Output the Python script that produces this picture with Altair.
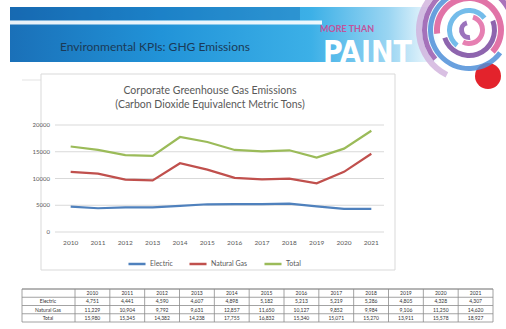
import altair as alt
import pandas as pd

# ---------------- data ----------------
years = ["2010", "2011", "2012", "2013", "2014", "2015",
         "2016", "2017", "2018", "2019", "2020", "2021"]
electric = [4751, 4441, 4590, 4607, 4898, 5182, 5213, 5219, 5286, 4805, 4328, 4307]
natural_gas = [11229, 10904, 9792, 9631, 12857, 11650, 10127, 9852, 9984, 9106, 11250, 14620]
total = [15980, 15345, 14382, 14238, 17755, 16832, 15340, 15071, 15270, 13911, 15578, 18927]
series = ["Electric", "Natural Gas", "Total"]
series_colors = ["#4F81BD", "#C0504D", "#9BBB59"]
y_ticks = [0, 5000, 10000, 15000, 20000]
chart_title = ["Corporate Greenhouse Gas Emissions", "(Carbon Dioxide Equivalenct Metric Tons)"]
slide_title = ["Environmental KPIs: GHG Emissions"]
brand_small = ["MORE THAN"]
brand_big = ["PAINT"]
table_rows = ["Year", "Electric", "Natural Gas", "Total"]

FONT = "Lato"

df = pd.DataFrame({
    "year": years * 3,
    "series": ["Electric"] * 12 + ["Natural Gas"] * 12 + ["Total"] * 12,
    "value": electric + natural_gas + total,
})

one = pd.DataFrame({"k": [0]})

# ---------------- slide decorations ----------------
banner = alt.Chart(one).mark_rect(
    fill={"gradient": "linear", "x1": 0, "x2": 1, "y1": 0, "y2": 0,
          "stops": [{"offset": 0, "color": "#1a70b8"},
                    {"offset": 0.35, "color": "#2193d8"},
                    {"offset": 0.7, "color": "#3cb0e7"},
                    {"offset": 0.88, "color": "#9ad5f2"},
                    {"offset": 1, "color": "#ffffff"}]}
).encode(x=alt.value(10), x2=alt.value(440), y=alt.value(7), y2=alt.value(62))

banner_top = alt.Chart(one).mark_rect(color="#0f5aa3", opacity=0.3).encode(
    x=alt.value(10), x2=alt.value(300), y=alt.value(7), y2=alt.value(20))

white_stripe = alt.Chart(one).mark_rect(color="#ffffff", opacity=0.9).encode(
    x=alt.value(10), x2=alt.value(322), y=alt.value(20.5), y2=alt.value(24.5))

under_line = alt.Chart(one).mark_rule(color="#e3e3e3", strokeWidth=1).encode(
    x=alt.value(22), x2=alt.value(395), y=alt.value(80))


def arc(r_out, r_in, t1, t2, color, op=0.85):
    return alt.Chart(one).mark_arc(
        radius=r_out, radius2=r_in, theta=t1, theta2=t2, color=color, opacity=op
    ).encode(x=alt.value(469), y=alt.value(30))


red_blob = alt.Chart(one).mark_arc(radius=13, theta=0, theta2=6.2832, color="#e3232c").encode(
    x=alt.value(488), y=alt.value(76))

logo = [
    red_blob,
    arc(53, 47, 3.6, 7.6, "#cfb0dc", 0.8),
    arc(47, 42, 4.0, 8.2, "#9a5aae"),
    arc(41, 36, 2.2, 5.8, "#4f8fd8"),
    arc(35, 29, 4.6, 8.6, "#dc5a98"),
    arc(28, 23, 1.2, 4.4, "#7a4aa0"),
    arc(22, 17, 3.8, 7.2, "#5cb0e6"),
    arc(16, 11, 0.3, 3.6, "#e26aa4"),
    arc(10, 5, 3.0, 6.0, "#8a5ab0"),
]

slide_title_t = alt.Chart(pd.DataFrame({"t": slide_title})).mark_text(
    font=FONT, fontSize=12, color="#1b3a57", align="left", baseline="middle"
).encode(x=alt.value(60), y=alt.value(47), text="t:N")

brand_small_t = alt.Chart(pd.DataFrame({"t": brand_small})).mark_text(
    font=FONT, fontSize=9, fontWeight="bold", color="#c2549c", align="left", baseline="middle"
).encode(x=alt.value(320), y=alt.value(29), text="t:N")

brand_big_t = alt.Chart(pd.DataFrame({"t": brand_big})).mark_text(
    font="Liberation Sans Narrow, DejaVu Sans Condensed, sans-serif", fontSize=30,
    fontWeight="bold", color="#ffffff", align="left", baseline="alphabetic"
).encode(x=alt.value(323), y=alt.value(62), text="t:N")

frame = alt.Chart(one).mark_rect(fill="#ffffff", stroke="#d9d9d9", strokeWidth=1).encode(
    x=alt.value(41), x2=alt.value(395), y=alt.value(74), y2=alt.value(270))

# ---------------- line chart ----------------
xs = alt.Scale(type="point", domain=years, range=[57, 385], padding=0.5)
ys = alt.Scale(domain=[0, 20000], range=[232, 125], nice=False, zero=False)

grid = alt.Chart(pd.DataFrame({"v": y_ticks})).mark_rule(color="#d9d9d9", strokeWidth=1).encode(
    y=alt.Y("v:Q", scale=ys, axis=None), x=alt.value(55), x2=alt.value(384))

ylabels = alt.Chart(pd.DataFrame({"v": y_ticks})).mark_text(
    font=FONT, fontSize=6, color="#595959", align="right", baseline="middle"
).encode(y=alt.Y("v:Q", scale=ys, axis=None), x=alt.value(50), text=alt.Text("v:Q", format="d"))

xlabels = alt.Chart(pd.DataFrame({"year": years})).mark_text(
    font=FONT, fontSize=6.5, color="#595959", align="center", baseline="middle"
).encode(x=alt.X("year:O", scale=xs, axis=None), y=alt.value(243), text="year:N")

lines = alt.Chart(df).mark_line(strokeWidth=2.2).encode(
    x=alt.X("year:O", scale=xs, axis=None),
    y=alt.Y("value:Q", scale=ys, axis=None),
    color=alt.Color("series:N", scale=alt.Scale(domain=series, range=series_colors),
                    legend=alt.Legend(orient="none", legendX=127, legendY=254,
                                      direction="horizontal", title=None,
                                      symbolType="stroke", symbolSize=290,
                                      symbolStrokeWidth=2.5, labelFontSize=7,
                                      labelFont=FONT, labelColor="#595959",
                                      columnPadding=11, labelOffset=3, padding=0)),
)

ctitle = alt.Chart(pd.DataFrame({"t": chart_title, "yy": [91, 105]})).mark_text(
    font=FONT, fontSize=10.5, color="#595959", align="center", baseline="middle"
).encode(x=alt.value(210), y=alt.Y("yy:Q", scale=None), text="t:N")

line_chart = alt.layer(grid, ylabels, xlabels, lines)

# ---------------- table ----------------
tx = alt.Scale(type="band", domain=years, range=[75, 493], paddingInner=0, paddingOuter=0)
ty = alt.Scale(type="band", domain=table_rows, range=[289, 322], paddingInner=0, paddingOuter=0)

cells = pd.DataFrame({
    "row": ["Year"] * 12 + ["Electric"] * 12 + ["Natural Gas"] * 12 + ["Total"] * 12,
    "year": years * 4,
    "txt": years + [f"{v:,}" for v in electric] + [f"{v:,}" for v in natural_gas]
    + [f"{v:,}" for v in total],
})

t_frame = alt.Chart(one).mark_rect(fill="#ffffff", stroke="#8c8c8c", strokeWidth=0.8).encode(
    x=alt.value(22), x2=alt.value(493), y=alt.value(289), y2=alt.value(322))

t_vlines = alt.Chart(pd.DataFrame({"year": years})).mark_rule(color="#8c8c8c", strokeWidth=0.8).encode(
    x=alt.X("year:O", scale=tx, axis=None, bandPosition=0), y=alt.value(289), y2=alt.value(322))

t_hlines = alt.Chart(pd.DataFrame({"row": table_rows})).mark_rule(color="#8c8c8c", strokeWidth=0.8).encode(
    y=alt.Y("row:O", scale=ty, axis=None, bandPosition=0), x=alt.value(22), x2=alt.value(493))

t_cells = alt.Chart(cells).mark_text(font=FONT, fontSize=5, color="#333333", baseline="middle").encode(
    x=alt.X("year:O", scale=tx, axis=None, bandPosition=0.5),
    y=alt.Y("row:O", scale=ty, axis=None, bandPosition=0.5),
    text="txt:N")

t_labels = alt.Chart(pd.DataFrame({"row": table_rows[1:]})).mark_text(
    font=FONT, fontSize=5, color="#333333", baseline="middle"
).encode(y=alt.Y("row:O", scale=ty, axis=None, bandPosition=0.5), x=alt.value(48), text="row:N")

table = alt.layer(t_frame, t_vlines, t_hlines, t_cells, t_labels)

chart = alt.layer(
    banner, banner_top, white_stripe, under_line, *logo,
    slide_title_t, brand_small_t, brand_big_t, frame, ctitle, line_chart, table
).resolve_scale(x="independent", y="independent").properties(
    width=506, height=329, padding=0, background="#ffffff",
    autosize=alt.AutoSizeParams(type="none"),
).configure_view(stroke=None)

chart.save("out.html", embed_options={"renderer": "svg", "actions": False})
